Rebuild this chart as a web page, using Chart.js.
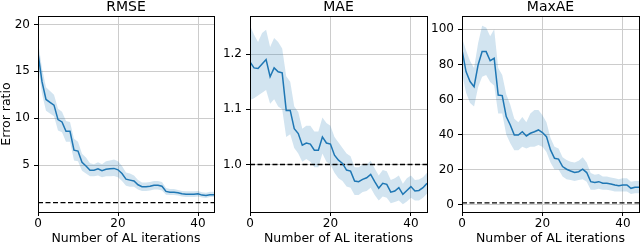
<!DOCTYPE html>
<html><head><meta charset="utf-8">
<script src="https://cdn.jsdelivr.net/npm/chart.js@4.4.1/dist/chart.umd.min.js"></script>
<style>
html,body{margin:0;padding:0;background:#fff;overflow:hidden;width:640px;height:243px;position:relative;}
canvas{position:absolute;top:0;}
</style></head><body>
<canvas id="c1" width="219" height="248" style="left:-1px"></canvas>
<canvas id="c2" width="210" height="248" style="left:220px"></canvas>
<canvas id="c3" width="208" height="248" style="left:432px"></canvas>
<script>
// ---------- data ----------
const iterations = [0,1,2,3,4,5,6,7,8,9,10,11,12,13,14,15,16,17,18,19,20,21,22,23,24,25,26,27,28,29,30,31,32,33,34,35,36,37,38,39,40,41,42,43,44];
const baselineValue = 1;
const xTicks = [0, 20, 40];

const rmseMean  = [16.95,13.9,12.0,11.7,11.4,9.85,9.6,8.6,8.6,6.6,6.5,5.3,4.9,4.45,4.45,4.6,4.4,4.55,4.6,4.65,4.5,4.1,3.5,3.4,3.3,2.9,2.7,2.7,2.75,2.85,2.85,2.75,2.2,2.1,2.1,2.05,1.95,1.9,1.9,1.9,1.95,1.8,1.75,1.85,1.85];
const rmseLower = [15.7,12.6,10.8,10.5,10.2,8.7,8.5,7.5,7.5,5.5,5.4,4.4,4.1,3.8,3.8,3.9,3.7,3.8,3.8,3.85,3.7,3.3,2.8,2.7,2.7,2.4,2.25,2.25,2.3,2.4,2.4,2.3,1.85,1.8,1.8,1.75,1.65,1.6,1.6,1.6,1.65,1.55,1.5,1.6,1.6];
const rmseUpper = [18.2,15.3,13.3,12.9,12.5,11.0,10.7,9.7,9.6,7.8,7.5,6.2,5.8,5.2,5.1,5.3,5.1,5.4,5.5,5.6,5.4,4.9,4.2,4.1,3.9,3.4,3.15,3.15,3.2,3.3,3.3,3.2,2.55,2.45,2.45,2.35,2.25,2.2,2.2,2.2,2.25,2.1,2.05,2.15,2.15];
const rmseTicks = [5, 10, 15, 20];

const maeMean  = [1.186,1.175,1.174,1.182,1.190,1.159,1.175,1.168,1.166,1.098,1.098,1.065,1.056,1.035,1.039,1.037,1.026,1.026,1.050,1.039,1.037,1.017,1.008,1.002,0.990,0.988,0.970,0.969,0.973,0.976,0.982,0.969,0.957,0.966,0.964,0.950,0.952,0.958,0.946,0.953,0.960,0.952,0.953,0.958,0.966];
const maeLower = [1.117,1.12,1.125,1.13,1.135,1.11,1.118,1.105,1.10,1.05,1.055,1.03,1.02,1.005,1.01,1.005,0.995,0.995,1.02,1.005,1.0,0.985,0.975,0.97,0.96,0.958,0.945,0.945,0.95,0.952,0.958,0.945,0.935,0.942,0.94,0.93,0.932,0.935,0.928,0.933,0.94,0.935,0.935,0.94,0.947];
const maeUpper = [1.252,1.235,1.222,1.238,1.244,1.213,1.229,1.222,1.21,1.16,1.15,1.105,1.095,1.065,1.07,1.07,1.06,1.06,1.085,1.075,1.07,1.05,1.04,1.03,1.02,1.015,0.995,0.995,1.0,1.0,1.007,0.993,0.98,0.99,0.988,0.972,0.975,0.98,0.965,0.975,0.98,0.972,0.973,0.977,0.985];
const maeTicks = [1.0, 1.1, 1.2];

const maxaeMean  = [88.2,75.9,70.2,67.3,79.7,87.3,87.3,82.1,83.5,62.5,62.2,50.2,45.4,39.7,39.7,41.6,39.2,40.7,41.6,42.6,41.1,38.8,31.2,26.4,26.0,21.7,20.2,19.2,18.4,18.8,20.2,18.3,13.1,12.7,13.1,12.2,12.2,11.8,11.2,10.8,11.2,11.2,9.3,9.9,9.9];
const maxaeLower = [75,64,58,56,67,73,74,70,68,52,52,40,35,31,31,33,32,33,33,34,33,30,24,20,20,16,14.5,14,13.5,14,14.5,13,8.5,8.5,9,8.5,8.5,8,7.5,7.5,7.5,7.5,6,6.5,6.5];
const maxaeUpper = [95,88,82,78,92,102,101,96,100,78,74,63,57,49,47,50,47,52,54,54,51,47,38,33,32,27,25.5,24.5,24,25,27,24,18,17,17.5,16,16,15.5,15,14.5,15,15,13,13.5,13.5];
const maxaeTicks = [0, 20, 40, 60, 80, 100];

// ---------- helpers ----------
const FONT = "'DejaVu Sans', sans-serif";
const BLUE = '#1f77b4';
const BAND = 'rgba(31,119,180,0.2)';
const GRID = '#cccccc';

function pts(arr){ return iterations.map((x,i)=>({x:x, y:arr[i]})); }
function align(p){ return Math.round(p - 0.5) + 0.5; }

const framePlugin = {
  id: 'frame',
  afterDatasetsDraw(chart){
    const {ctx, chartArea:a} = chart;
    ctx.save();
    ctx.strokeStyle = '#000';
    ctx.lineWidth = 1;
    const l = align(a.left), r = align(a.right), t = align(a.top), b = align(a.bottom);
    ctx.strokeRect(l, t, r - l, b - t);
    ctx.restore();
  }
};

function makePanel(id, title, mean, lower, upper, yMin, yMax, yTicks, fmt, yTitle, yWidth, padRight){
  const ctx = document.getElementById(id);
  return new Chart(ctx, {
    type: 'line',
    data: {
      datasets: [
        {data: pts(mean), borderColor: BLUE, borderWidth: 1.5, pointRadius: 0, fill: false, tension: 0},
        {data: pts(iterations.map(()=>baselineValue)), borderColor: '#000', borderWidth: 1.4, borderDash: [5, 2.5], pointRadius: 0, fill: false},
        {data: pts(lower), borderWidth: 0, borderColor: 'rgba(0,0,0,0)', pointRadius: 0, fill: false},
        {data: pts(upper), borderWidth: 0, borderColor: 'rgba(0,0,0,0)', backgroundColor: BAND, pointRadius: 0, fill: '-1'}
      ]
    },
    options: {
      responsive: false,
      animation: false,
      devicePixelRatio: 1,
      layout: {padding: {left: 0, right: padRight, top: 0, bottom: 0}},
      plugins: {
        legend: {display: false},
        tooltip: {enabled: false},
        title: {display: true, fullSize: false, text: title, color: '#000', font: {family: FONT, size: 14, weight: 'normal', lineHeight: 1}, padding: {top: 0, bottom: 2}}
      },
      scales: {
        x: {
          type: 'linear', min: iterations[0], max: iterations[iterations.length-1],
          afterBuildTicks: s => { s.ticks = xTicks.map(v => ({value: v})); },
          afterFit: s => { s.height = 36; },
          grid: {color: GRID, lineWidth: 1, tickColor: '#000', tickLength: 4, drawTicks: true},
          border: {display: true, color: '#000', width: 1},
          ticks: {color: '#000', font: {family: FONT, size: 12}, padding: 1, maxRotation: 0, callback: v => String(v)},
          title: {display: true, text: 'Number of AL iterations', color: '#000', font: {family: FONT, size: 12.5}, padding: {top: 0, bottom: 2}}
        },
        y: {
          type: 'linear', min: yMin, max: yMax,
          afterBuildTicks: s => { s.ticks = yTicks.map(v => ({value: v})); },
          afterFit: s => { s.width = yWidth; },
          grid: {color: GRID, lineWidth: 1, tickColor: '#000', tickLength: 4, drawTicks: true},
          border: {display: true, color: '#000', width: 1},
          ticks: {color: '#000', font: {family: FONT, size: 12}, padding: 4, callback: fmt},
          title: {display: !!yTitle, text: yTitle || '', color: '#000', font: {family: FONT, size: 12.5}, padding: {top: 0, bottom: 0}}
        }
      }
    },
    plugins: [framePlugin]
  });
}

makePanel('c1', 'RMSE', rmseMean, rmseLower, rmseUpper, 0, 20.9, rmseTicks, v => String(v), 'Error ratio', 39, 4);
makePanel('c2', 'MAE', maeMean, maeLower, maeUpper, 0.914, 1.269, maeTicks, v => Number(v).toFixed(1), null, 30, 3);
makePanel('c3', 'MaxAE', maxaeMean, maxaeLower, maxaeUpper, -4.2, 107.6, maxaeTicks, v => String(v), null, 30, 1);
</script>
</body></html>
